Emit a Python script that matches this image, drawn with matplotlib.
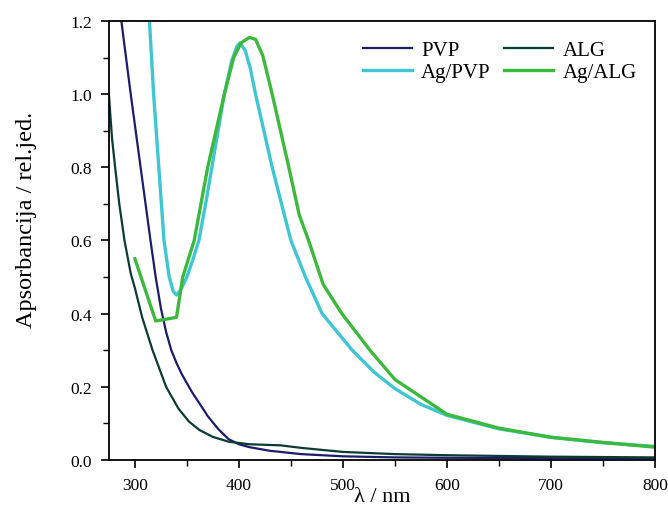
import matplotlib
matplotlib.use('Agg')
from matplotlib import pyplot as plt
from matplotlib.ticker import MultipleLocator

# wavelengths (nm) and absorbance
pvp_x = [287, 296, 305.5, 315, 320, 325, 330, 335, 340, 345, 355, 362, 370, 380, 390, 400, 410, 430, 460, 500, 550, 600, 700, 800]
pvp_y = [1.2, 1.0, 0.8, 0.6, 0.5, 0.415, 0.35, 0.3, 0.265, 0.235, 0.185, 0.155, 0.12, 0.085, 0.057, 0.043, 0.035, 0.025, 0.016, 0.01, 0.007, 0.006, 0.005, 0.005]

alg_x = [275, 278, 281, 285, 290, 296, 300, 307, 317, 330, 342, 352, 362, 375, 390, 410, 440, 460, 500, 550, 600, 700, 800]
alg_y = [1.0, 0.88, 0.8, 0.7, 0.6, 0.51, 0.47, 0.39, 0.3, 0.2, 0.14, 0.105, 0.082, 0.063, 0.05, 0.043, 0.04, 0.033, 0.022, 0.016, 0.013, 0.009, 0.007]

agpvp_x = [311, 314, 318, 323, 328, 333, 337, 340, 344, 350, 356, 361.5, 368, 374, 380, 386, 393, 398, 401, 406, 411, 416, 424, 432, 441, 450, 464, 480, 509, 530, 550, 575, 600, 650, 700, 750, 800]
agpvp_y = [1.35, 1.2, 1.0, 0.8, 0.6, 0.5, 0.46, 0.451, 0.465, 0.5, 0.55, 0.6, 0.7, 0.8, 0.9, 1.0, 1.09, 1.13, 1.14, 1.12, 1.07, 1.0, 0.9, 0.8, 0.7, 0.6, 0.5, 0.4, 0.3, 0.24, 0.195, 0.152, 0.122, 0.085, 0.062, 0.047, 0.037]

agalg_x = [300, 320, 340, 346, 357, 370, 386, 395, 402, 410, 416, 423, 432, 440, 448, 458, 467, 481, 499, 526, 550, 600, 650, 700, 750, 800]
agalg_y = [0.55, 0.38, 0.39, 0.5, 0.6, 0.8, 1.0, 1.1, 1.14, 1.155, 1.15, 1.105, 1.0, 0.9, 0.8, 0.67, 0.6, 0.48, 0.4, 0.3, 0.22, 0.125, 0.087, 0.062, 0.048, 0.035]

plt.rcParams['font.family'] = 'Liberation Serif'

fig = plt.figure(figsize=(6.68, 5.06), dpi=100)
ax = fig.add_axes([0.163, 0.089, 0.8175, 0.8675])

ax.plot(pvp_x, pvp_y, color='#1c1c6b', lw=1.6, label='PVP')
ax.plot(agpvp_x, agpvp_y, color='#3ec6d2', lw=2.4, label='Ag/PVP')
ax.plot(alg_x, alg_y, color='#0c3b34', lw=1.6, label='ALG')
ax.plot(agalg_x, agalg_y, color='#3cb93c', lw=2.4, label='Ag/ALG')

ax.set_xlim(275, 800)
ax.set_ylim(0, 1.2)
ax.xaxis.set_major_locator(MultipleLocator(100))
ax.xaxis.set_minor_locator(MultipleLocator(50))
ax.yaxis.set_major_locator(MultipleLocator(0.2))
ax.yaxis.set_minor_locator(MultipleLocator(0.1))
ax.yaxis.set_major_formatter(plt.FormatStrFormatter('%.1f'))
ax.tick_params(which='major', length=6, width=1.2, labelsize=12.5, direction='out', pad=6)
ax.tick_params(which='minor', length=4, width=1.0, direction='out')
for s in ax.spines.values():
    s.set_linewidth(1.3)

ax.set_xlabel('λ / nm', fontsize=16, labelpad=-4)
ax.set_ylabel('Apsorbancija / rel.jed.', fontsize=17.5)
ax.yaxis.set_label_coords(-0.132, 0.55)

ax.legend(ncol=2, loc='upper right', frameon=False, fontsize=15,
          handlelength=2.35, handletextpad=0.45, columnspacing=0.65, labelspacing=0.1,
          borderpad=0, borderaxespad=0, bbox_to_anchor=(0.967, 0.955))

fig.savefig('out.png', dpi=100)
